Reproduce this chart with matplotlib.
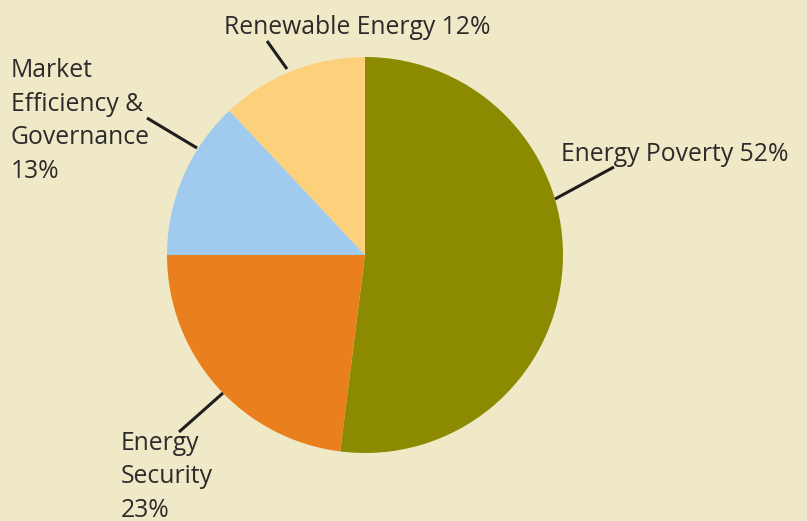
import matplotlib
matplotlib.use("Agg")
import matplotlib.pyplot as plt

# shares as printed on the chart labels (%)
categories = ["Energy Poverty", "Energy Security", "Market Efficiency & Governance", "Renewable Energy"]
shares = [52, 23, 13, 12]
label_texts = ["Energy Poverty 52%", "Energy\nSecurity\n23%", "Market\nEfficiency &\nGovernance\n13%", "Renewable Energy 12%"]
colors = ["#8b8a00", "#ea7f1e", "#a1cbee", "#fdd07c"]

W, H = 807, 521
bg = "#f0e9c7"

fig = plt.figure(figsize=(W / 100, H / 100), dpi=100)
fig.patch.set_facecolor(bg)
ax = fig.add_axes([0, 0, 1, 1])
ax.set_facecolor(bg)

# pixel coords of the picture -> data coords (y goes up)
def px(x, y):
    return x, H - y

ax.pie(shares, colors=colors, startangle=90, counterclock=False,
       center=px(365, 255), radius=198, frame=True,
       wedgeprops=dict(linewidth=0))
ax.set_xlim(0, W)
ax.set_ylim(0, H)
ax.set_aspect("equal")
ax.axis("off")

# label anchor (left, baseline of last line) and leader line ends
label_pos = [(561, 161), (121, 517), (11, 178), (224, 34)]
leaders = [((555, 199), (614, 167)),
           ((223, 393), (179, 432)),
           ((197, 148), (147, 118)),
           ((287, 69), (267, 41))]

for txt, (lx, ly), (p0, p1) in zip(label_texts, label_pos, leaders):
    ax.text(*px(lx, ly), txt, ha="left", va="baseline", fontsize=17.8,
            color="#2b2b2b", family="Open Sans", linespacing=1.45)
    ax.plot([p0[0], p1[0]], [H - p0[1], H - p1[1]], color="#1e1e1e", lw=2.2,
            solid_capstyle="butt")

fig.savefig("out.png", dpi=100, facecolor=bg)
